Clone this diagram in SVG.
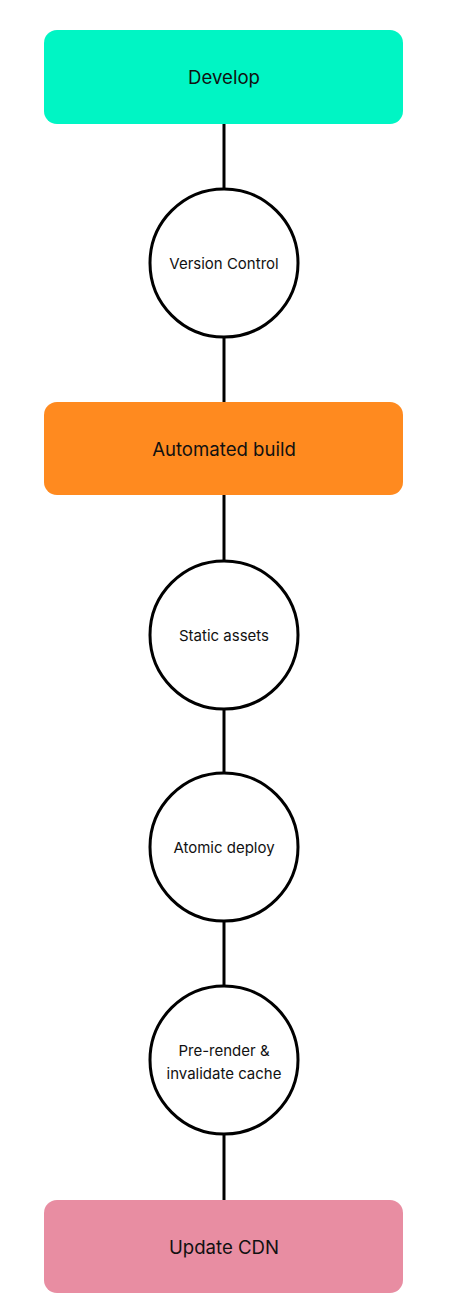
<svg xmlns="http://www.w3.org/2000/svg" width="450" height="1306" viewBox="0 0 450 1306">
<style>
.box{stroke:none}
.circ{fill:#fff;stroke:#000;stroke-width:3}
.conn{stroke:#000;stroke-width:3;fill:none}
.lbl{font-family:Inter,"Noto Sans",sans-serif;font-size:18.6px;fill:#111;text-anchor:middle;dominant-baseline:central}
.clbl{font-family:Inter,"Noto Sans",sans-serif;font-size:15px;fill:#111;text-anchor:middle;dominant-baseline:central}
</style>
<rect width="450" height="1306" fill="#fff"/>
<g id="connectors">
<line class="conn" x1="224" y1="123" x2="224" y2="189"/>
<line class="conn" x1="224" y1="337" x2="224" y2="402"/>
<line class="conn" x1="224" y1="495" x2="224" y2="561"/>
<line class="conn" x1="224" y1="709" x2="224" y2="773"/>
<line class="conn" x1="224" y1="921" x2="224" y2="986"/>
<line class="conn" x1="224" y1="1134" x2="224" y2="1200"/>
</g>
<g id="develop">
<rect class="box" x="44" y="30" width="359" height="94" rx="13" fill="#00F5C4"/>
<text class="lbl" x="224" y="77">Develop</text>
</g>
<g id="version-control">
<circle class="circ" cx="224" cy="263" r="74"/>
<text class="clbl" x="224" y="263">Version Control</text>
</g>
<g id="automated-build">
<rect class="box" x="44" y="402" width="359" height="93" rx="13" fill="#FF8A1F"/>
<text class="lbl" x="224" y="449">Automated build</text>
</g>
<g id="static-assets">
<circle class="circ" cx="224" cy="635" r="74"/>
<text class="clbl" x="224" y="635">Static assets</text>
</g>
<g id="atomic-deploy">
<circle class="circ" cx="224" cy="847" r="74"/>
<text class="clbl" x="224" y="847">Atomic deploy</text>
</g>
<g id="pre-render">
<circle class="circ" cx="224" cy="1060" r="74"/>
<text class="clbl" x="224" y="1050">Pre-render &amp;</text>
<text class="clbl" x="224" y="1073">invalidate cache</text>
</g>
<g id="update-cdn">
<rect class="box" x="44" y="1200" width="359" height="93" rx="13" fill="#E88DA2"/>
<text class="lbl" x="224" y="1247">Update CDN</text>
</g>
</svg>
